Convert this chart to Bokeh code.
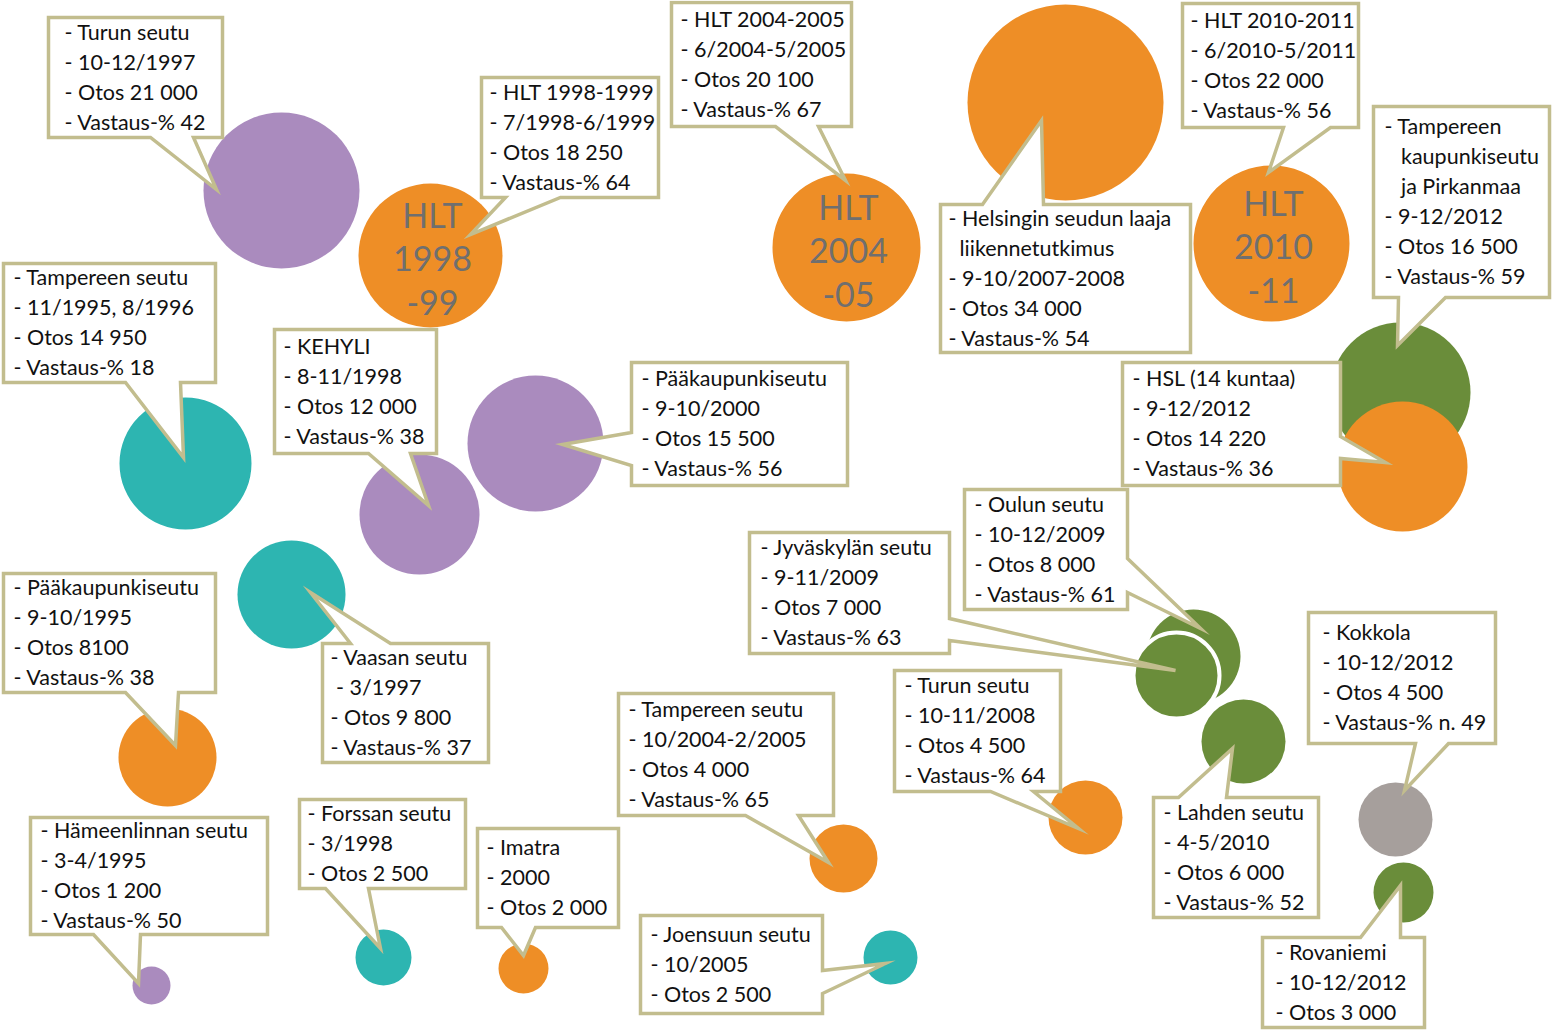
from bokeh.plotting import figure
from bokeh.models import Range1d, ColumnDataSource
from bokeh.core.properties import value
from bokeh.embed import file_html
from bokeh.resources import INLINE

NB = "\u00a0"

# ---------------- bubbles ----------------
bubble_names = ["Turun seutu 1997", "HLT 1998-99", "HLT 2004-05", "Helsingin seudun laaja liikennetutkimus",
                "HLT 2010-11", "Tampereen kaupunkiseutu ja Pirkanmaa", "HSL (14 kuntaa)", "Tampereen seutu 1995",
                "KEHYLI", "Pääkaupunkiseutu 2000", "Vaasan seutu", "Pääkaupunkiseutu 1995", "Hämeenlinnan seutu",
                "Forssan seutu", "Imatra", "Tampereen seutu 2004", "Joensuun seutu", "Turun seutu 2008",
                "Oulun seutu", "Jyväskylän seutu", "Lahden seutu", "Kokkola", "Rovaniemi"]
bubble_x = [281, 430, 846, 1065, 1271, 1400, 1402, 185, 419, 535, 291, 167, 151,
            383, 523, 843, 890, 1085, 1193, 1176, 1243, 1395, 1403]
bubble_y = [190, 255, 247, 102, 243, 392, 466, 463, 514, 443, 594, 757, 985,
            957, 968, 858, 957, 817, 656, 675, 741, 819, 892]
bubble_r = [78, 72, 74, 98, 78, 70, 65, 66, 60, 68, 54, 49, 19,
            28, 25, 34, 27, 37, 47, 43, 42, 37, 30]
bubble_group = ["purple", "orange", "orange", "orange", "orange", "green", "orange", "teal",
                "purple", "purple", "teal", "orange", "purple", "teal", "orange", "orange",
                "teal", "orange", "green", "green", "green", "grey", "green"]
bubble_edge = [0] * 19 + [4] + [0] * 3   # Jyväskylä circle has a white rim

palette = {"purple": "#aa8bbe", "orange": "#ee8e26", "teal": "#2db5b1",
           "green": "#6a8d3a", "grey": "#a69f9c"}

# texts inside HLT bubbles
hlt_labels = [["HLT", "1998", "-99"], ["HLT", "2004", "-05"], ["HLT", "2010", "-11"]]
hlt_bubble = [1, 2, 4]

# ---------------- callouts ----------------
callout_lines = [
    ["- Turun seutu", "- 10-12/1997", "- Otos 21 000", "- Vastaus-% 42"],
    ["- HLT 1998-1999", "- 7/1998-6/1999", "- Otos 18 250", "- Vastaus-% 64"],
    ["- HLT 2004-2005", "- 6/2004-5/2005", "- Otos 20 100", "- Vastaus-% 67"],
    ["- Helsingin seudun laaja", NB + NB + "liikennetutkimus", "- 9-10/2007-2008", "- Otos 34 000", "- Vastaus-% 54"],
    ["- HLT 2010-2011", "- 6/2010-5/2011", "- Otos 22 000", "- Vastaus-% 56"],
    ["- Tampereen", NB + NB + NB + "kaupunkiseutu", NB + NB + NB + "ja Pirkanmaa", "- 9-12/2012", "- Otos 16 500", "- Vastaus-% 59"],
    ["- HSL (14 kuntaa)", "- 9-12/2012", "- Otos 14 220", "- Vastaus-% 36"],
    ["- Tampereen seutu", "- 11/1995, 8/1996", "- Otos 14 950", "- Vastaus-% 18"],
    ["- KEHYLI", "- 8-11/1998", "- Otos 12 000", "- Vastaus-% 38"],
    ["- Pääkaupunkiseutu", "- 9-10/2000", "- Otos 15 500", "- Vastaus-% 56"],
    ["- Pääkaupunkiseutu", "- 9-10/1995", "- Otos 8100", "- Vastaus-% 38"],
    ["- Vaasan seutu", NB + "- 3/1997", "- Otos 9 800", "- Vastaus-% 37"],
    ["- Hämeenlinnan seutu", "- 3-4/1995", "- Otos 1 200", "- Vastaus-% 50"],
    ["- Forssan seutu", "- 3/1998", "- Otos 2 500"],
    ["- Imatra", "- 2000", "- Otos 2 000"],
    ["- Tampereen seutu", "- 10/2004-2/2005", "- Otos 4 000", "- Vastaus-% 65"],
    ["- Joensuun seutu", "- 10/2005", "- Otos 2 500"],
    ["- Turun seutu", "- 10-11/2008", "- Otos 4 500", "- Vastaus-% 64"],
    ["- Oulun seutu", "- 10-12/2009", "- Otos 8 000", "- Vastaus-% 61"],
    ["- Jyväskylän seutu", "- 9-11/2009", "- Otos 7 000", "- Vastaus-% 63"],
    ["- Lahden seutu", "- 4-5/2010", "- Otos 6 000", "- Vastaus-% 52"],
    ["- Kokkola", "- 10-12/2012", "- Otos 4 500", "- Vastaus-% n. 49"],
    ["- Rovaniemi", "- 10-12/2012", "- Otos 3 000"],
]
box_left   = [48, 481, 671, 940, 1182, 1373, 1122, 3, 274, 631, 3, 322, 30, 299, 477, 618, 640, 894, 964, 749, 1153, 1308, 1262]
box_top    = [17, 77, 2, 204, 3, 106, 362, 263, 329, 362, 573, 643, 817, 799, 828, 693, 915, 670, 489, 532, 797, 612, 937]
box_right  = [222, 658, 851, 1190, 1358, 1549, 1340, 215, 436, 847, 215, 488, 267, 465, 618, 833, 822, 1060, 1127, 949, 1318, 1495, 1424]
box_bottom = [137, 197, 126, 352, 127, 297, 485, 382, 453, 485, 692, 762, 934, 888, 927, 815, 1013, 791, 609, 653, 917, 743, 1027]
text_inset = [16, 8, 9, 8, 8, 11, 10, 10, 9, 10, 10, 8, 10, 8, 9, 10, 10, 10, 10, 11, 10, 14, 13]
ptr_side = ["bottom", "bottom", "bottom", "top", "bottom", "bottom", "right", "bottom", "bottom", "left",
            "bottom", "top", "bottom", "bottom", "bottom", "bottom", "right", "bottom", "right", "right",
            "top", "bottom", "top"]
ptr_a = [150, 505, 775, 982, 1283, 1398, 436, 125, 368, 432, 125, 350, 93, 325, 501, 745, 970, 990, 558, 618, 1178, 1415, 1360]
ptr_b = [193, 560, 818, 1043, 1330, 1445, 458, 180, 410, 465, 178, 390, 140, 368, 535, 798, 993, 1033, 592, 640, 1226, 1448, 1400]
tip_x = [216, 470, 845, 1041, 1268, 1397, 1385, 183, 428, 562, 175, 310, 138, 380, 523, 828, 885, 1078, 1200, 1175, 1232, 1404, 1400]
tip_y = [189, 234, 180, 120, 172, 345, 462, 457, 505, 444, 745, 592, 983, 948, 955, 862, 963, 828, 628, 670, 748, 790, 885]

BORDER = "#c2bd8e"
FONT = "Lato"
LINE_H = 30
W, H = 1552, 1032


def callout_polygon(i):
    x0, y0, x1, y1 = box_left[i], box_top[i], box_right[i], box_bottom[i]
    a, b, tx, ty, side = ptr_a[i], ptr_b[i], tip_x[i], tip_y[i], ptr_side[i]
    pts = [(x0, y0)]
    if side == "top":
        pts += [(a, y0), (tx, ty), (b, y0)]
    pts += [(x1, y0)]
    if side == "right":
        pts += [(x1, a), (tx, ty), (x1, b)]
    pts += [(x1, y1)]
    if side == "bottom":
        pts += [(b, y1), (tx, ty), (a, y1)]
    pts += [(x0, y1)]
    if side == "left":
        pts += [(x0, b), (tx, ty), (x0, a)]
    return [p[0] for p in pts], [p[1] for p in pts]


p = figure(width=W, height=H, x_range=Range1d(0, W), y_range=Range1d(H, 0),
           output_backend="svg", toolbar_location=None, min_border=0)
p.axis.visible = False
p.grid.visible = False
p.outline_line_color = None
p.background_fill_color = "white"
p.border_fill_color = "white"

# bubbles
src_b = ColumnDataSource(dict(x=bubble_x, y=bubble_y, r=bubble_r,
                              c=[palette[g] for g in bubble_group],
                              lw=bubble_edge,
                              lc=["white" if e else palette[g] for e, g in zip(bubble_edge, bubble_group)]))
p.circle(x="x", y="y", radius="r", fill_color="c", line_color="lc", line_width="lw", source=src_b)

# HLT labels inside bubbles
hx, hy, ht = [], [], []
for labels, bi in zip(hlt_labels, hlt_bubble):
    for k, t in enumerate(labels):
        hx.append(bubble_x[bi] + 2)
        hy.append(bubble_y[bi] + (k - 1) * 44 + 3)
        ht.append(t)
p.text(x=hx, y=hy, text=ht, text_align="center", text_baseline="middle",
       text_font=value(FONT), text_font_size="34px", text_color="#6f6f6f")

# callout shapes
xs, ys = [], []
for i in range(len(callout_lines)):
    px, py = callout_polygon(i)
    xs.append(px)
    ys.append(py)
p.patches(xs=xs, ys=ys, fill_color="white", line_color=BORDER, line_width=3.5, line_join="miter")

# callout texts
tx_, ty_, tt_ = [], [], []
for i, lines in enumerate(callout_lines):
    n = len(lines)
    yc = (box_top[i] + box_bottom[i]) / 2
    for k, t in enumerate(lines):
        tx_.append(box_left[i] + text_inset[i])
        ty_.append(yc + (k - (n - 1) / 2) * LINE_H - 1)
        tt_.append(t)
p.text(x=tx_, y=ty_, text=tt_, text_align="left", text_baseline="middle",
       text_font=value(FONT), text_font_size="21.5px", text_color="#111111")

open("out.html", "w").write(file_html(p, INLINE))
